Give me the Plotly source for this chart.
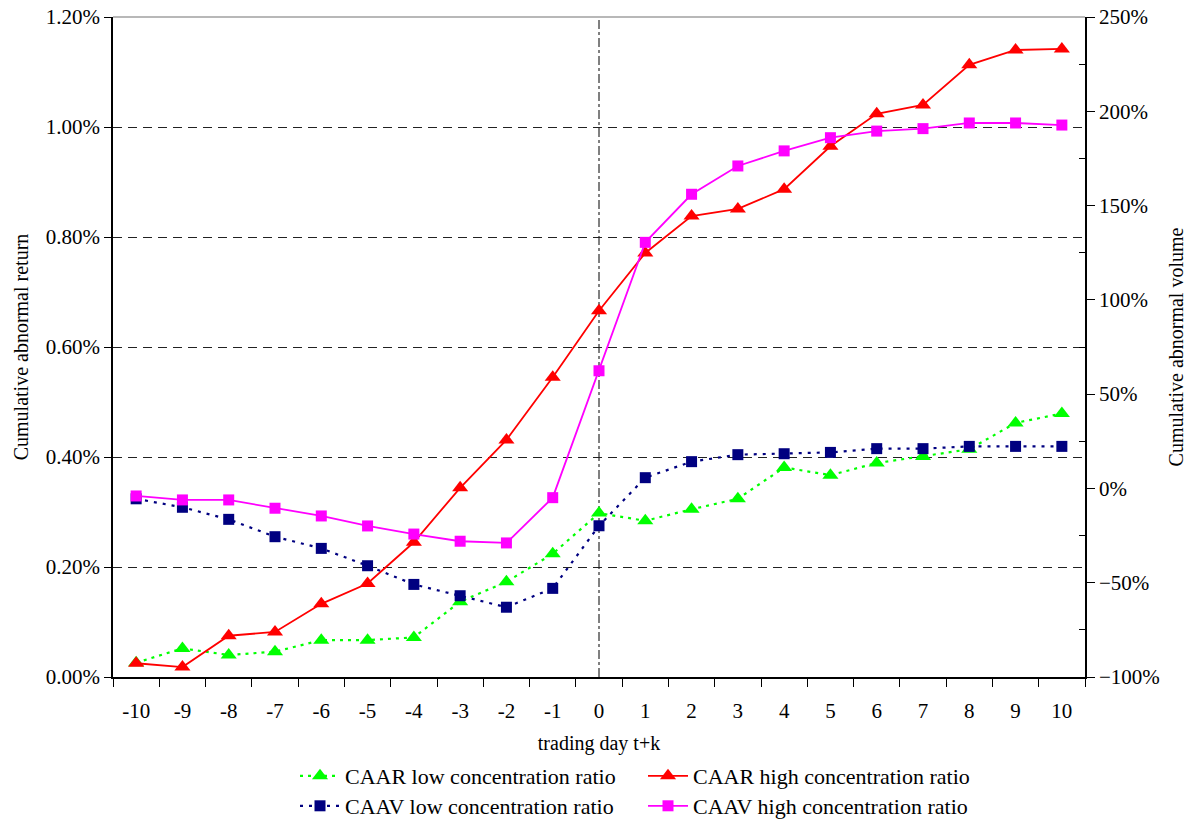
import plotly.graph_objects as go

days = list(range(-10, 11))
event_day = 0

caar_low = [0.026, 0.052, 0.040, 0.046, 0.067, 0.067, 0.072, 0.137, 0.173, 0.224, 0.298,
            0.284, 0.305, 0.324, 0.381, 0.367, 0.389, 0.401, 0.414, 0.462, 0.479]
caar_high = [0.025, 0.018, 0.075, 0.082, 0.133, 0.170, 0.245, 0.344, 0.431, 0.545, 0.666,
             0.771, 0.838, 0.851, 0.887, 0.965, 1.024, 1.040, 1.113, 1.140, 1.142]
caav_low = [-5.5, -10.0, -16.4, -25.6, -31.8, -41.0, -50.9, -56.9, -63.0, -53.0, -19.8,
            5.7, 14.2, 17.9, 18.4, 19.1, 21.1, 21.1, 22.3, 22.3, 22.3]
caav_high = [-4.0, -6.1, -6.1, -10.5, -14.6, -19.9, -24.2, -28.0, -28.9, -4.9, 62.4,
             130.5, 156.0, 171.0, 179.0, 186.0, 189.5, 190.8, 193.8, 193.8, 192.7]

FONT = "Liberation Serif"
W, H = 1193, 820

fig = go.Figure()
fig.add_trace(go.Scatter(x=days, y=caar_low, name="CAAR low concentration ratio",
                         mode="lines+markers", legend="legend",
                         line=dict(color="#00FF00", width=2.2, dash="3px,5px"),
                         marker=dict(symbol="triangle-up", size=14, color="#00FF00")))
fig.add_trace(go.Scatter(x=days, y=caar_high, name="CAAR high concentration ratio",
                         mode="lines+markers", legend="legend",
                         line=dict(color="#FF0000", width=1.8),
                         marker=dict(symbol="triangle-up", size=14, color="#FF0000")))
fig.add_trace(go.Scatter(x=days, y=caav_low, name="CAAV low concentration ratio",
                         mode="lines+markers", legend="legend2", yaxis="y2",
                         line=dict(color="#000080", width=2.2, dash="3px,6px"),
                         marker=dict(symbol="square", size=11, color="#000080")))
fig.add_trace(go.Scatter(x=days, y=caav_high, name="CAAV high concentration ratio",
                         mode="lines+markers", legend="legend2", yaxis="y2",
                         line=dict(color="#FF00FF", width=1.8),
                         marker=dict(symbol="square", size=11, color="#FF00FF")))

# event day vertical line
fig.add_shape(type="line", xref="x", yref="paper", x0=event_day, x1=event_day, y0=0, y1=1,
              line=dict(color="black", width=1, dash="dashdot"), layer="below")
# top border of plot area
fig.add_shape(type="line", xref="paper", yref="paper", x0=0, x1=1, y0=1, y1=1,
              line=dict(color="#A0A0A0", width=1.5), layer="above")

fig.update_layout(
    width=W, height=H,
    margin=dict(l=113, r=108, t=17, b=143, autoexpand=False),
    paper_bgcolor="white", plot_bgcolor="white",
    font=dict(family=FONT, size=20, color="black"),
    xaxis=dict(range=[-10.5, 10.5], tickmode="array", tickvals=days,
               ticktext=[str(d) for d in days], ticks="", showgrid=False,
               zeroline=False, showline=True, linecolor="black", linewidth=1.5,
               ticklabelstandoff=14, tickfont=dict(family=FONT, size=21), automargin=False,
               minor=dict(tick0=0.5, dtick=1, ticks="outside", ticklen=8,
                          tickcolor="black", tickwidth=1.2, showgrid=False),
               title=dict(text="trading day t+k", font=dict(family=FONT, size=20), standoff=17)),
    yaxis=dict(range=[0, 1.2], dtick=0.2, tickformat=".2f", ticksuffix="%",
               showgrid=True, gridcolor="#222222", griddash="9px,6px", gridwidth=1,
               zeroline=False, showline=True, linecolor="black", linewidth=1.5,
               ticks="outside", ticklen=7, tickcolor="black", automargin=False,
               tickfont=dict(family=FONT, size=21), ticklabeloverflow="allow",
               title=dict(text="Cumulative abnormal return", font=dict(family=FONT, size=20),
                          standoff=12)),
    yaxis2=dict(range=[-100, 250], dtick=50, ticksuffix="%", overlaying="y",
                side="right", showgrid=False, zeroline=False, showline=True,
                linecolor="black", linewidth=1.5, ticks="outside", ticklen=8,
                tickcolor="black", automargin=False, tickfont=dict(family=FONT, size=21),
                ticklabeloverflow="allow",
                minor=dict(tick0=-75, dtick=50, ticks="inside", ticklen=6,
                           tickcolor="black", showgrid=False),
                title=dict(text="Cumulative abnormal volume", font=dict(family=FONT, size=20),
                           standoff=10)),
    legend=dict(orientation="h", xref="container", yref="container",
                x=295 / W, xanchor="left", y=1 - 776 / H, yanchor="middle",
                entrywidth=293, entrywidthmode="pixels",
                font=dict(family=FONT, size=22),
                bgcolor="rgba(0,0,0,0)", itemwidth=40),
    legend2=dict(orientation="h", xref="container", yref="container",
                 x=295 / W, xanchor="left", y=1 - 806 / H, yanchor="middle",
                 entrywidth=293, entrywidthmode="pixels",
                 font=dict(family=FONT, size=22),
                 bgcolor="rgba(0,0,0,0)", itemwidth=40),
    showlegend=True,
)

fig.write_html("out.html", config={"displayModeBar": False},
               post_script="document.body.style.margin='0';")
